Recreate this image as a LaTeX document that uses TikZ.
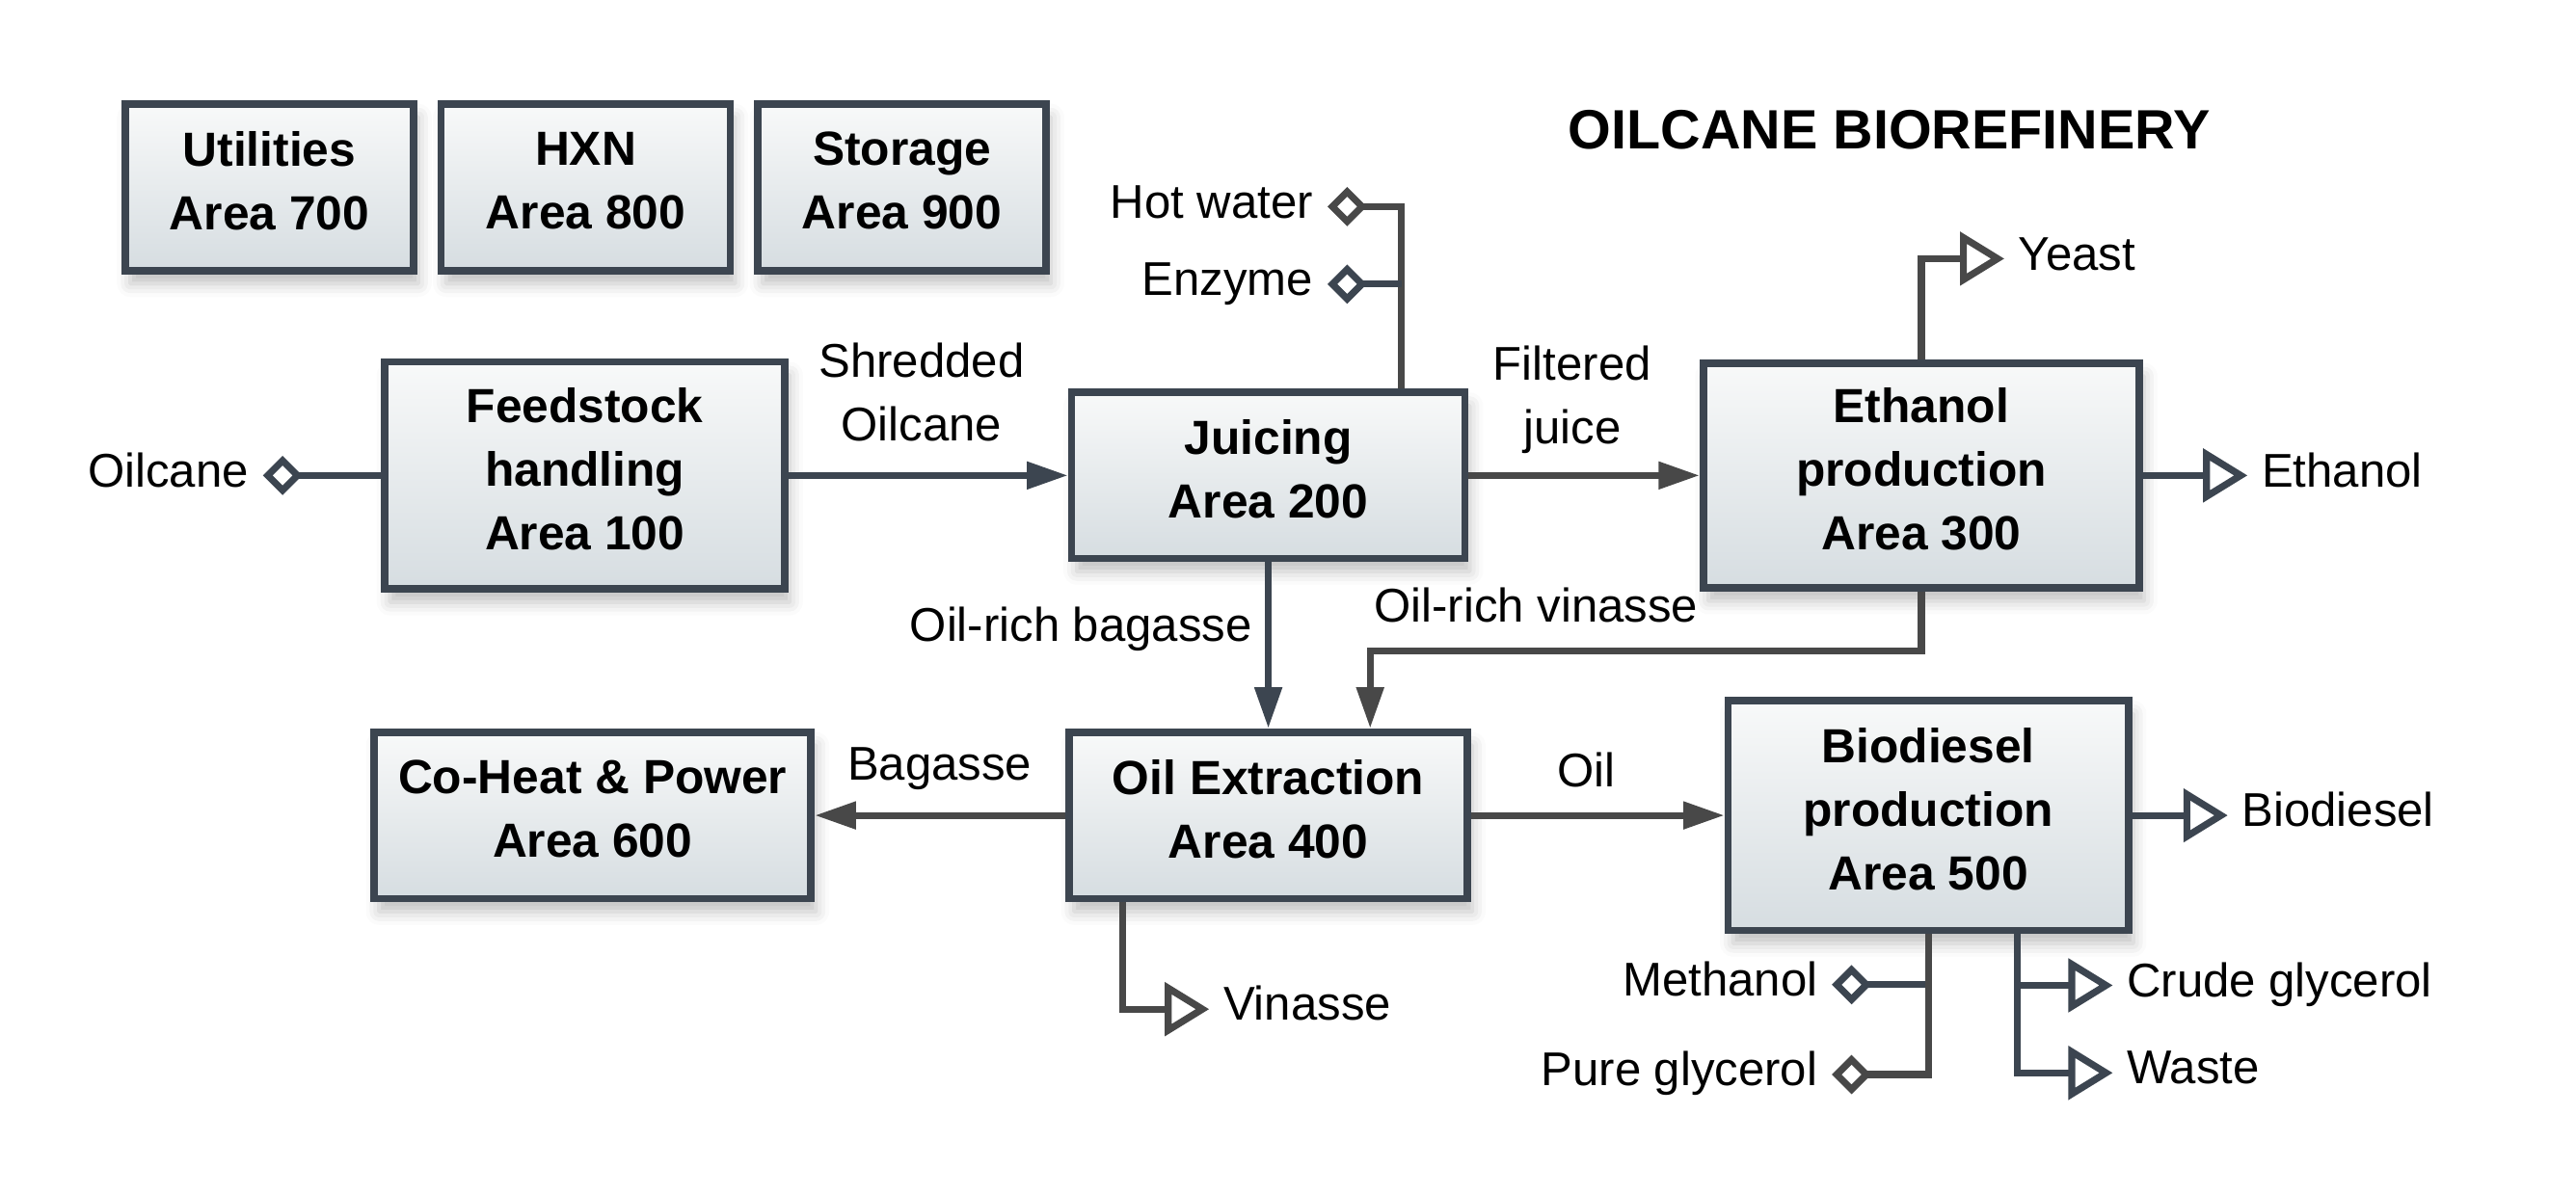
\documentclass[tikz,border=0pt]{standalone}
\usepackage{fontspec}
\setmainfont{Liberation Sans}
\usetikzlibrary{arrows.meta,shadows.blur}
\definecolor{boxline}{HTML}{3C4550}
\definecolor{pipe}{HTML}{484848}
\definecolor{boxtop}{HTML}{F8F9F9}
\definecolor{boxbot}{HTML}{D6DDE1}

\begin{document}
\begin{tikzpicture}[auto,
    area/.style ={rectangle, draw=boxline, line width=1.3pt, top color=boxtop, bottom color=boxbot,
                  align=center, font=\fontsize{8.3}{11}\selectfont\bfseries, text depth=2.3pt,
                  blur shadow={shadow xshift=0.3mm, shadow yshift=-0.8mm, shadow blur radius=0.8mm, shadow opacity=25}},
    heading/.style ={font=\fontsize{9.6}{12}\selectfont\bfseries, inner sep=0pt},
    lbl/.style ={inner xsep=0.8mm, inner ysep=0pt, font=\fontsize{8.2}{11}\selectfont, text height=5.9pt, text depth=2pt},
    lbltwo/.style ={align=center, inner sep=0pt, font=\fontsize{8.2}{11}\selectfont},
    flow/.style ={pipe, line width=1.2pt, -{Triangle[length=2.5mm,width=1.6mm]}},
    feedin/.style ={boxline, line width=1.2pt, {Diamond[open,length=2.4mm,width=2.4mm]}-},
    product/.style ={boxline, line width=1.2pt, -{Triangle[open,length=2.7mm,width=3.2mm]}}]
   \useasboundingbox (0,0) rectangle (15.68,-7.265);
   \node[heading] (title) at (11.50,-0.79) {OILCANE BIOREFINERY};

   % process areas
   \node[area, minimum width=1.755cm, minimum height=1.015cm] (util) at (1.64,-1.14) {Utilities\\Area 700};
   \node[area, minimum width=1.76cm, minimum height=1.015cm] (hxn) at (3.565,-1.14) {HXN\\Area 800};
   \node[area, minimum width=1.755cm, minimum height=1.015cm] (stor) at (5.49,-1.14) {Storage\\Area 900};
   \node[area, minimum width=2.434cm, minimum height=1.384cm] (feed) at (3.56,-2.895) {Feedstock\\handling\\Area 100};
   \node[area, minimum width=2.394cm, minimum height=1.01cm] (juice) at (7.72,-2.895) {Juicing\\Area 200};
   \node[area, minimum width=2.654cm, minimum height=1.37cm] (eth) at (11.695,-2.895) {Ethanol\\production\\Area 300};
   \node[area, minimum width=2.66cm, minimum height=1.014cm] (chp) at (3.607,-4.965) {Co-Heat \& Power\\Area 600};
   \node[area, minimum width=2.424cm, minimum height=1.014cm] (oilex) at (7.72,-4.965) {Oil Extraction\\Area 400};
   \node[area, minimum width=2.436cm, minimum height=1.40cm] (biod) at (11.737,-4.965) {Biodiesel\\production\\Area 500};

   % stream names
   \node[lbl, anchor=east] (oilcane) at (1.60,-2.895) {Oilcane};
   \node[lbl, anchor=east] (hotw) at (8.08,-1.258) {Hot water};
   \node[lbl, anchor=east] (enz) at (8.08,-1.73) {Enzyme};
   \node[lbltwo] (shred) at (5.61,-2.39) {Shredded\\Oilcane};
   \node[lbltwo] (filt) at (9.57,-2.435) {Filtered\\juice};
   \node[lbl, anchor=west] (yeast) at (12.20,-1.575) {Yeast};
   \node[lbl, anchor=west] (ethout) at (13.68,-2.895) {Ethanol};
   \node[lbl] (richbag) at (6.58,-3.837) {Oil-rich bagasse};
   \node[lbl] (richvin) at (9.35,-3.72) {Oil-rich vinasse};
   \node[lbl] (bagasse) at (5.72,-4.68) {Bagasse};
   \node[lbl] (oil) at (9.655,-4.72) {Oil};
   \node[lbl, anchor=west] (vinout) at (7.36,-6.145) {Vinasse};
   \node[lbl, anchor=west] (biodout) at (13.56,-4.965) {Biodiesel};
   \node[lbl, anchor=east] (meth) at (11.15,-5.996) {Methanol};
   \node[lbl, anchor=east] (pureg) at (11.15,-6.543) {Pure glycerol};
   \node[lbl, anchor=west] (crude) at (12.86,-6.0) {Crude glycerol};
   \node[lbl, anchor=west] (waste) at (12.86,-6.533) {Waste};
   \coordinate (juicein) at ([xshift=8.1mm]juice.north);
   \coordinate (biodaux) at ([xshift=5.4mm]biod.south);

   % main flows
   \draw[flow, boxline] (feed) to (juice);
   \draw[flow] (juice) to (eth);
   \draw[flow, boxline] (juice) to (oilex);
   \draw[flow] (eth.south) -- ++(0,-0.36) -| ([xshift=6.2mm]oilex.north);
   \draw[flow] (oilex) to (chp);
   \draw[flow] (oilex) to (biod);

   % feeds
   \draw[feedin] (oilcane.east) to (feed.west);
   \draw[feedin, pipe] (hotw.east) -| (juicein);
   \draw[feedin] (enz.east) -- (enz.east -| juicein);
   \draw[feedin] (meth.east) -| (biod.south);
   \draw[feedin, pipe] (pureg.east) -| (biod.south);

   % products
   \draw[product, pipe] (eth.north) |- (yeast.west);
   \draw[product] (eth.east) to (ethout.west);
   \draw[product, pipe] ([xshift=-8.85mm]oilex.south) |- (vinout.west);
   \draw[product] (biod.east) to (biodout.west);
   \draw[product] (biodaux) |- (crude.west);
   \draw[product] (biodaux) |- (waste.west);
\end{tikzpicture}
\end{document}
